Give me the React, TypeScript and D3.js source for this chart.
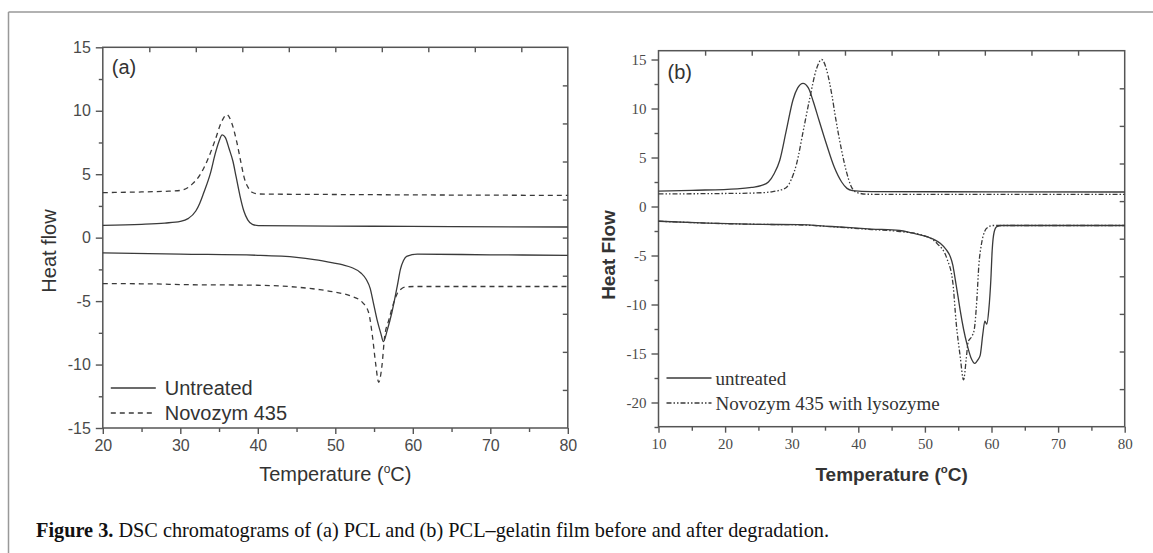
import React, { useEffect, useRef } from "react";
import * as d3 from "d3";

// ---- panel (a): PCL ----
const aTempTicks = [20, 30, 40, 50, 60, 70, 80];
const aTempMinor = [25, 35, 45, 55, 65, 75];
const aHeatTicks = [-15, -10, -5, 0, 5, 10, 15];
const aHeatMinor = [-12.5, -7.5, -2.5, 2.5, 7.5, 12.5];

const aUntreatedCool = [
  [20, 0.97], [25, 1.05], [28, 1.15], [30, 1.28], [31, 1.5], [32, 2.1], [32.5, 2.7], [33, 3.5],
  [33.9, 5.1], [34.5, 6.6], [35, 7.6], [35.4, 8.1], [35.8, 7.9], [36.3, 7.0], [36.8, 6.0],
  [37.2, 4.8], [37.7, 3.3], [38.2, 2.1], [38.7, 1.4], [39.3, 1.05], [40.1, 0.95], [45, 0.93],
  [55, 0.9], [65, 0.87], [80, 0.84],
];
const aNovozymCool = [
  [20, 3.55], [25, 3.6], [28, 3.65], [30, 3.72], [31, 3.95], [31.5, 4.2], [32.5, 4.9], [33.5, 6.1],
  [34.5, 7.7], [35.3, 9.1], [36, 9.7], [36.6, 9.1], [37.3, 7.5], [37.8, 6.0], [38.3, 4.6],
  [38.8, 3.9], [39.2, 3.6], [40.1, 3.44], [50, 3.4], [60, 3.37], [80, 3.33],
];
const aUntreatedHeat = [
  [20, -1.2], [30, -1.3], [40, -1.39], [45, -1.55], [47.3, -1.73], [49.7, -1.99], [51, -2.15],
  [52.1, -2.35], [53.3, -2.78], [54, -3.3], [54.5, -4.0], [54.9, -5.1], [55.4, -6.5], [55.9, -7.6],
  [56.2, -8.2], [56.7, -7.3], [57.3, -5.9], [58, -3.8], [58.4, -2.5], [58.8, -1.8], [59.2, -1.47],
  [60.6, -1.3], [70, -1.35], [80, -1.39],
];
const aNovozymHeat = [
  [20, -3.62], [27, -3.65], [30, -3.7], [40, -3.75], [45, -3.9], [48, -4.1], [50, -4.3], [52, -4.6],
  [53.5, -5.1], [54.3, -5.9], [54.8, -7.8], [55.2, -9.9], [55.6, -11.4], [56.0, -10.2],
  [56.37, -7.8], [56.9, -6.5], [57.5, -5.2], [58, -4.4], [58.5, -4.05], [59, -3.9], [60.2, -3.85],
  [80, -3.85],
];

// ---- panel (b): PCL-gelatin ----
const bTempTicks = [10, 20, 30, 40, 50, 60, 70, 80];
const bTempMinor = [15, 25, 35, 45, 55, 65, 75];
const bHeatTicks = [-20, -15, -10, -5, 0, 5, 10, 15];
const bHeatMinor = [-22.5, -17.5, -12.5, -7.5, -2.5, 2.5, 7.5, 12.5];

const bUntreatedCool = [
  [10, 1.56], [15, 1.65], [21.8, 1.8], [24, 1.95], [25.5, 2.15], [26.5, 2.5], [27.4, 3.4],
  [28.2, 4.7], [29.2, 7.8], [30.2, 10.9], [30.9, 12.1], [31.7, 12.57], [32.5, 12.1], [33.2, 10.8],
  [34.1, 8.8], [35.2, 6.4], [36.4, 4.0], [37.5, 2.5], [38.3, 1.85], [39.1, 1.63], [42, 1.52],
  [60, 1.5], [80, 1.48],
];
const bLysozymeCool = [
  [10, 1.28], [15, 1.3], [20, 1.33], [24.6, 1.38], [27, 1.5], [28, 1.63], [29.2, 1.95], [29.9, 2.7],
  [30.75, 4.4], [31.7, 7.6], [32.7, 11.0], [33.7, 14.0], [34.5, 15.0], [35.3, 13.8], [36.0, 11.5],
  [36.6, 9.0], [37.5, 5.7], [38.2, 3.6], [38.9, 2.1], [39.7, 1.45], [41.4, 1.25], [60, 1.23],
  [80, 1.23],
];
const bUntreatedHeat = [
  [10, -1.5], [17.4, -1.7], [25, -1.82], [31, -1.85], [36, -2.04], [42, -2.3], [46.2, -2.45],
  [48, -2.7], [50.3, -3.08], [52.3, -3.76], [53.2, -4.4], [53.8, -5.1], [54.2, -6.0], [54.5, -7.2],
  [55.0, -9.3], [55.3, -10.6], [55.8, -12.5], [56.3, -14.0], [56.9, -15.4], [57.5, -16.0],
  [58.0, -15.6], [58.3, -15.2], [58.7, -13.0], [59.0, -11.7], [59.3, -12.0], [59.6, -10.5],
  [59.9, -7.5], [60.1, -4.5], [60.4, -2.6], [60.8, -2.05], [61.5, -1.94], [70, -1.94], [80, -1.94],
];
const bLysozymeHeat = [
  [10, -1.5], [17.4, -1.7], [25, -1.82], [31, -1.87], [36, -2.06], [42, -2.35], [46.2, -2.55],
  [49.8, -2.95], [51.8, -3.76], [53.3, -5.3], [54.2, -7.8], [54.7, -11.9], [55.3, -15.3],
  [55.8, -17.7], [56.2, -15.6], [56.5, -13.8], [57.0, -13.3], [57.4, -12.6], [57.8, -9.5],
  [58.1, -6.0], [58.5, -3.8], [59.0, -2.5], [59.5, -2.1], [60.2, -1.94], [80, -1.94],
];

const lineColor = "#3a3a3a";
const axisColor = "#555";
const SANS = "'Liberation Sans', Arial, sans-serif";
const SERIF = "'Liberation Serif', 'Times New Roman', serif";

function drawPanel(svg, p) {
  const g = svg.append("g");
  const [x0, x1] = p.x.range();
  const [y0, y1] = p.y.range();

  const tickText = sel =>
    sel.selectAll("text")
      .attr("fill", "#4a4a4a")
      .attr("font-family", p.tickFont)
      .attr("font-size", p.tickSize);

  // bottom axis, outward ticks
  g.append("g")
    .attr("transform", `translate(0,${y0})`)
    .call(d3.axisBottom(p.x).tickValues(p.xTicks).tickSize(6).tickPadding(6).tickSizeOuter(0).tickFormat(d => String(d)))
    .call(tickText);
  g.append("g")
    .attr("transform", `translate(0,${y0})`)
    .call(d3.axisBottom(p.x).tickValues(p.xMinor).tickSize(4).tickSizeOuter(0).tickFormat(() => ""));

  // left axis, outward ticks
  g.append("g")
    .attr("transform", `translate(${x0},0)`)
    .call(d3.axisLeft(p.y).tickValues(p.yTicks).tickSize(7).tickPadding(5).tickSizeOuter(0).tickFormat(d => String(d)))
    .call(tickText);
  g.append("g")
    .attr("transform", `translate(${x0},0)`)
    .call(d3.axisLeft(p.y).tickValues(p.yMinor).tickSize(4).tickSizeOuter(0).tickFormat(() => ""));

  // top and right: ten plain divisions, ticks pointing in
  const topDiv = d3.scaleLinear().domain([0, 10]).range([x0, x1]);
  const rightDiv = d3.scaleLinear().domain([0, 10]).range([y0, y1]);
  g.append("g")
    .attr("transform", `translate(0,${y1})`)
    .call(d3.axisTop(topDiv).tickValues(d3.range(1, 10)).tickSize(-5).tickSizeOuter(0).tickFormat(() => ""));
  g.append("g")
    .attr("transform", `translate(${x1},0)`)
    .call(d3.axisRight(rightDiv).tickValues(d3.range(1, 10)).tickSize(-5).tickSizeOuter(0).tickFormat(() => ""));

  g.selectAll(".domain").remove();
  g.selectAll(".tick line").attr("stroke", axisColor).attr("stroke-width", 1.4);

  g.append("rect")
    .attr("x", x0)
    .attr("y", y1)
    .attr("width", x1 - x0)
    .attr("height", y0 - y1)
    .attr("fill", "none")
    .attr("stroke", axisColor)
    .attr("stroke-width", 1.5);

  const line = d3.line()
    .x(d => p.x(d[0]))
    .y(d => p.y(d[1]))
    .curve(d3.curveMonotoneX);

  p.series.forEach(s => {
    g.append("path")
      .attr("d", line(s.data))
      .attr("fill", "none")
      .attr("stroke", lineColor)
      .attr("stroke-width", 1.3)
      .attr("stroke-dasharray", s.dash || null);
  });

  // panel tag
  g.append("text")
    .attr("x", x0 + 9)
    .attr("y", p.tagY)
    .attr("font-family", SANS)
    .attr("font-size", 20)
    .attr("fill", "#333")
    .text(p.tag);

  // legend
  p.series.filter(s => s.label).forEach((s, i) => {
    const ly = p.legendY + i * p.legendGap;
    g.append("line")
      .attr("x1", x0 + 8)
      .attr("x2", x0 + 53)
      .attr("y1", ly)
      .attr("y2", ly)
      .attr("stroke", lineColor)
      .attr("stroke-width", 1.3)
      .attr("stroke-dasharray", s.dash || null);
    g.append("text")
      .attr("x", x0 + p.legendTextDx)
      .attr("y", ly + 7)
      .attr("font-family", p.legendFont)
      .attr("font-size", p.legendSize)
      .attr("fill", "#333")
      .text(s.label);
  });

  // axis titles
  const xt = g.append("text")
    .attr("x", (x0 + x1) / 2)
    .attr("y", 481)
    .attr("text-anchor", "middle")
    .attr("font-family", SANS)
    .attr("font-size", p.titleSize)
    .attr("font-weight", p.titleWeight)
    .attr("fill", "#333");
  xt.append("tspan").text("Temperature (");
  xt.append("tspan").attr("font-size", p.titleSize * 0.6).attr("dy", -8).text("o");
  xt.append("tspan").attr("dy", 8).text("C)");

  g.append("text")
    .attr("transform", `translate(${p.yTitleX},${p.yTitleY}) rotate(-90)`)
    .attr("text-anchor", "middle")
    .attr("font-family", SANS)
    .attr("font-size", p.titleSize)
    .attr("font-weight", p.titleWeight)
    .attr("fill", "#333")
    .text(p.yTitle);
}

export default function App() {
  const ref = useRef(null);

  useEffect(() => {
    const svg = d3.select(ref.current);
    svg.selectAll("*").remove();

    // figure frame (top and left rules only)
    svg.append("line").attr("x1", 8.5).attr("x2", 1153).attr("y1", 12).attr("y2", 12)
      .attr("stroke", "#999").attr("stroke-width", 1.5);
    svg.append("line").attr("x1", 8.5).attr("x2", 8.5).attr("y1", 12).attr("y2", 553)
      .attr("stroke", "#999").attr("stroke-width", 1.5);

    drawPanel(svg, {
      x: d3.scaleLinear().domain([20, 80]).range([102.8, 567.8]),
      y: d3.scaleLinear().domain([-15, 15]).range([428, 47.3]),
      xTicks: aTempTicks, xMinor: aTempMinor, yTicks: aHeatTicks, yMinor: aHeatMinor,
      tickFont: SANS, tickSize: 16,
      tag: "(a)", tagY: 74,
      legendY: 388, legendGap: 25, legendFont: SANS, legendSize: 20, legendTextDx: 62,
      titleSize: 20, titleWeight: "normal",
      yTitle: "Heat flow", yTitleX: 56, yTitleY: 251,
      series: [
        { data: aUntreatedCool, label: "Untreated" },
        { data: aNovozymCool, dash: "5,4", label: "Novozym 435" },
        { data: aUntreatedHeat },
        { data: aNovozymHeat, dash: "5,4" },
      ],
    });

    drawPanel(svg, {
      x: d3.scaleLinear().domain([10, 80]).range([658.5, 1124.7]),
      y: d3.scaleLinear().domain([-22.47, 15.9]).range([426.7, 50.7]),
      xTicks: bTempTicks, xMinor: bTempMinor, yTicks: bHeatTicks, yMinor: bHeatMinor,
      tickFont: SERIF, tickSize: 15,
      tag: "(b)", tagY: 79,
      legendY: 378, legendGap: 25, legendFont: SERIF, legendSize: 19, legendTextDx: 57,
      titleSize: 19, titleWeight: "bold",
      yTitle: "Heat Flow", yTitleX: 615, yTitleY: 255,
      series: [
        { data: bUntreatedCool, label: "untreated" },
        { data: bLysozymeCool, dash: "5,2,1.5,2,1.5,2", label: "Novozym 435 with lysozyme" },
        { data: bUntreatedHeat },
        { data: bLysozymeHeat, dash: "5,2,1.5,2,1.5,2" },
      ],
    });

    // caption
    const cap = svg.append("text")
      .attr("x", 36)
      .attr("y", 537)
      .attr("font-family", SERIF)
      .attr("font-size", 20.3)
      .attr("fill", "#111");
    cap.append("tspan").attr("font-weight", "bold").text("Figure 3.");
    cap.append("tspan").text(" DSC chromatograms of (a) PCL and (b) PCL\u2013gelatin film before and after degradation.");
  }, []);

  return (
    <svg
      ref={ref}
      width={1153}
      height={553}
      style={{ position: "absolute", left: 0, top: 0, background: "#fff" }}
    />
  );
}
